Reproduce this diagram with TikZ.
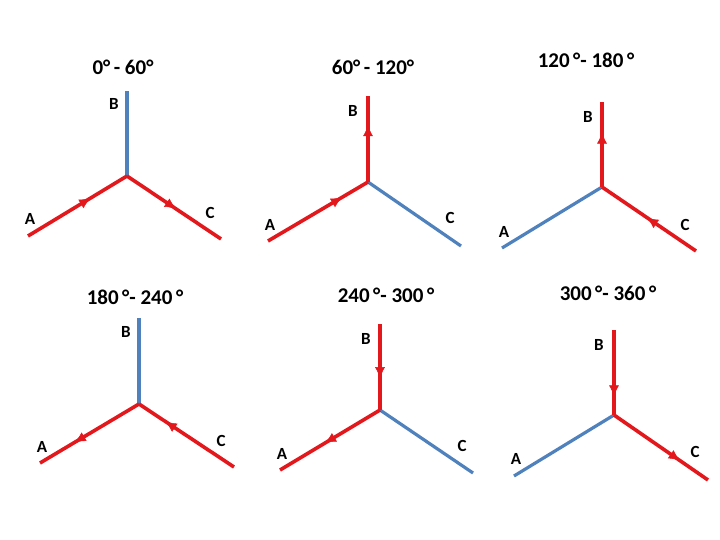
\documentclass[tikz,border=0pt]{standalone}
\usepackage{fontspec}
\setmainfont{Carlito}
\usetikzlibrary{arrows.meta,decorations.markings}
\definecolor{legred}{RGB}{226,24,28}
\definecolor{legblue}{RGB}{79,129,189}
\tikzset{
  redleg/.style={draw=legred, line width=3.6pt},
  blueleg/.style={draw=legblue, line width=3.2pt},
  flow/.style={postaction={decorate}, decoration={markings,
      mark=at position #1 with {\arrow[legred, line width=0.5pt]{Latex[length=11pt,width=10pt]}}}},
  lbl/.style={font=\bfseries\fontsize{17}{17}\selectfont, inner sep=0pt},
  ttl/.style={font=\bfseries\fontsize{21}{21}\selectfont, inner sep=0pt}
}
\begin{document}
\begin{tikzpicture}[x=1pt, y=-1pt]
      \useasboundingbox (0,0) rectangle (720,540);
      % 0 - 60
      \node[ttl] (t1) at (123,67) {0°\,- 60°};
      \begin{scope}[shift={(127,176)}]
        \coordinate (o1) at (0,0);
        \coordinate (a1) at (-99,60);
        \coordinate (b1) at (0,-85);
        \coordinate (c1) at (94,63);
        \node[lbl] (la1) at (-97,43) {A};
        \node[lbl] (lb1) at (-13,-72) {B};
        \node[lbl] (lc1) at (83,37) {C};
        \draw[blueleg] (o1) -- (b1);
        \draw[redleg, flow=0.63] (a1) -- (o1);
        \draw[redleg, flow=0.52] (o1) -- (c1);
      \end{scope}
      % 60 - 120
      \node[ttl] (t2) at (373,67) {60°\,- 120°};
      \begin{scope}[shift={(368,182)}]
        \coordinate (o2) at (0,0);
        \coordinate (a2) at (-100,59);
        \coordinate (b2) at (0,-86);
        \coordinate (c2) at (93,64);
        \node[lbl] (la2) at (-98,43) {A};
        \node[lbl] (lb2) at (-15,-71) {B};
        \node[lbl] (lc2) at (82,36) {C};
        \draw[blueleg] (o2) -- (c2);
        \draw[redleg, flow=0.74] (a2) -- (o2);
        \draw[redleg, flow=0.66] (o2) -- (b2);
      \end{scope}
      % 120 - 180
      \node[ttl] (t3) at (586,60) {120\,°- 180\,°};
      \begin{scope}[shift={(602,187)}]
        \coordinate (o3) at (0,0);
        \coordinate (a3) at (-100,61);
        \coordinate (b3) at (0,-85);
        \coordinate (c3) at (94,64);
        \node[lbl] (la3) at (-98,45) {A};
        \node[lbl] (lb3) at (-14,-70) {B};
        \node[lbl] (lc3) at (83,38) {C};
        \draw[blueleg] (o3) -- (a3);
        \draw[redleg, flow=0.64] (o3) -- (b3);
        \draw[redleg, flow=0.52] (c3) -- (o3);
      \end{scope}
      % 180 - 240
      \node[ttl] (t4) at (135,297) {180\,°- 240\,°};
      \begin{scope}[shift={(139,404)}]
        \coordinate (o4) at (0,0);
        \coordinate (a4) at (-99,59);
        \coordinate (b4) at (0,-86);
        \coordinate (c4) at (95,63);
        \node[lbl] (la4) at (-97,43) {A};
        \node[lbl] (lb4) at (-13,-72) {B};
        \node[lbl] (lc4) at (82,37) {C};
        \draw[blueleg] (o4) -- (b4);
        \draw[redleg, flow=0.65] (o4) -- (a4);
        \draw[redleg, flow=0.72] (c4) -- (o4);
      \end{scope}
      % 240 - 300
      \node[ttl] (t5) at (386,295) {240\,°- 300\,°};
      \begin{scope}[shift={(380,410)}]
        \coordinate (o5) at (0,0);
        \coordinate (a5) at (-100,60);
        \coordinate (b5) at (0,-86);
        \coordinate (c5) at (93,63);
        \node[lbl] (la5) at (-98,44) {A};
        \node[lbl] (lb5) at (-14,-71) {B};
        \node[lbl] (lc5) at (82,36) {C};
        \draw[blueleg] (o5) -- (c5);
        \draw[redleg, flow=0.63] (b5) -- (o5);
        \draw[redleg, flow=0.55] (o5) -- (a5);
      \end{scope}
      % 300 - 360
      \node[ttl] (t6) at (608,293) {300\,°- 360\,°};
      \begin{scope}[shift={(614,415)}]
        \coordinate (o6) at (0,0);
        \coordinate (a6) at (-100,61);
        \coordinate (b6) at (0,-85);
        \coordinate (c6) at (94,65);
        \node[lbl] (la6) at (-98,44) {A};
        \node[lbl] (lb6) at (-15,-70) {B};
        \node[lbl] (lc6) at (81,37) {C};
        \draw[blueleg] (o6) -- (a6);
        \draw[redleg, flow=0.78] (b6) -- (o6);
        \draw[redleg, flow=0.70] (o6) -- (c6);
      \end{scope}
    \end{tikzpicture}
\end{document}
